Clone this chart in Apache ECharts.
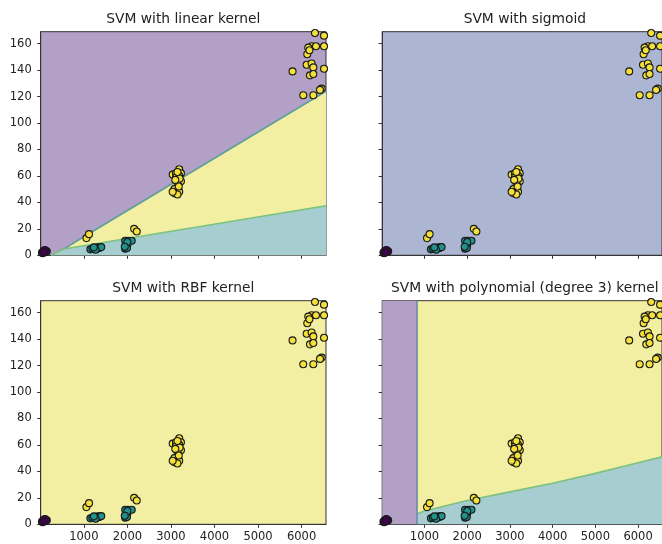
<!DOCTYPE html>
<html>
<head>
<meta charset="utf-8">
<script src="https://cdn.jsdelivr.net/npm/echarts@6/dist/echarts.min.js"></script>
<style>
    html, body { margin: 0; padding: 0; background: #fff; }
    #chart { width: 662px; height: 544px; }
</style>
</head>
<body>
<div id="chart"></div>
<script>
(function () {
    // ── data ────────────────────────────────────────────────────────────
    var titles = ['SVM with linear kernel', 'SVM with sigmoid',
                  'SVM with RBF kernel', 'SVM with polynomial (degree 3) kernel'];
    var xTicks = [1000, 2000, 3000, 4000, 5000, 6000];
    var yTicks = [0, 20, 40, 60, 80, 100, 120, 140, 160];
    var xRange = [10, 6560];
    var yRange = [0, 169];

    // class 0 (dark), class 1 (teal), class 2 (yellow)
    var class0 = [[40, 2], [70, 3], [95, 3.5], [120, 2.5], [150, 3], [60, 1.5], [110, 4], [85, 2.5]];
    var class1 = [[1150, 4.5], [1200, 5], [1250, 5.5], [1280, 4.8], [1300, 5.2], [1320, 6],
                  [1350, 5.5], [1380, 6], [1400, 6.2], [1270, 4.2], [1230, 6],
                  [1950, 5], [1960, 7], [1980, 6], [2000, 8], [1950, 11], [2020, 11],
                  [2100, 11], [1990, 5.5], [2000, 10], [1940, 6.5]];
    var class2 = [[1060, 13], [1120, 16], [2155, 20], [2215, 18],
                  [3040, 61], [3115, 62], [3190, 65], [3230, 62], [3190, 60], [3115, 59],
                  [3230, 56], [3155, 54], [3080, 50], [3190, 48], [3075, 47], [3150, 46],
                  [3040, 48], [3200, 58], [3150, 63], [3100, 57], [3180, 52],
                  [6307, 168], [6515, 166], [6230, 158], [6330, 158], [6153, 157], [6130, 152],
                  [6515, 158], [5792, 139], [6115, 144], [6230, 145], [6269, 142], [6192, 136],
                  [6269, 137], [6515, 141], [6038, 121], [6269, 121], [6461, 126], [6422, 125],
                  [6180, 155]];

    // decision boundaries (data units)
    var linearUpper = [[250, 0], [540, 4.7], [1000, 14], [6560, 124]];
    var linearLower = [[250, 0], [540, 4.7], [6560, 37.5]];
    var polyCutX = 830;
    var polyLower = [[830, 8], [1000, 10], [2000, 18], [3000, 24.5], [4000, 31],
                     [5000, 38.5], [6000, 46.5], [6560, 51]];

    // ── styling ─────────────────────────────────────────────────────────
    var purple = '#b2a0c6', teal = '#a6ced1', yellow = '#f2efa3', slate = '#acb6d3';
    var backgrounds = [purple, slate, yellow, yellow];
    var pointColors = ['#440154', '#21918c', '#f4e03a'];
    var font = 'DejaVu Sans';

    var cols = [40.7, 382.2], rows = [31.7, 300.7];
    var W = 285.3, H = 223.6;

    var grids = [], xAxes = [], yAxes = [], series = [], title = [];

    for (var i = 0; i < 4; i++) {
        var c = i % 2, r = Math.floor(i / 2);
        grids.push({
            left: cols[c], top: rows[r], width: W, height: H,
            show: true, backgroundColor: backgrounds[i],
            borderColor: '#333', borderWidth: 1
        });
        title.push({
            text: titles[i], left: cols[c] + W / 2, top: rows[r] - 19, textAlign: 'center',
            padding: 0,
            textStyle: { fontFamily: font, fontSize: 13.8, fontWeight: 'normal', color: '#222' }
        });
        xAxes.push({
            type: 'value', gridIndex: i, min: xRange[0], max: xRange[1],
            splitLine: { show: false },
            axisLine: { show: true, onZero: false, lineStyle: { color: '#333' } },
            axisTick: { show: true, length: 3.5, customValues: xTicks, lineStyle: { color: '#333' } },
            axisLabel: { show: r === 1, customValues: xTicks, margin: 7,
                         formatter: function (v) { return String(v); },
                         fontFamily: font, fontSize: 11.5, color: '#222' }
        });
        yAxes.push({
            type: 'value', gridIndex: i, min: yRange[0], max: yRange[1],
            splitLine: { show: false },
            axisLine: { show: true, onZero: false, lineStyle: { color: '#333' } },
            axisTick: { show: true, length: 3.5, customValues: yTicks, lineStyle: { color: '#333' } },
            axisLabel: { show: c === 0, customValues: yTicks, margin: 9,
                         formatter: function (v) { return String(v); },
                         fontFamily: font, fontSize: 11.5, color: '#222' }
        });

        [class0, class1, class2].forEach(function (pts, k) {
            series.push({
                type: 'scatter', xAxisIndex: i, yAxisIndex: i, data: pts,
                symbolSize: 7, z: 5, silent: true, clip: true,
                itemStyle: { color: pointColors[k], borderColor: '#1a1a1a', borderWidth: 1.1, opacity: 1 }
            });
        });
    }

    // linear kernel regions
    series.push({
        type: 'line', xAxisIndex: 0, yAxisIndex: 0, data: linearUpper, symbol: 'none', z: 2,
        lineStyle: { color: '#5f9e99', width: 1.6 },
        areaStyle: { color: yellow, opacity: 1 }
    });
    series.push({
        type: 'line', xAxisIndex: 0, yAxisIndex: 0, data: linearLower, symbol: 'none', z: 3,
        lineStyle: { color: '#7cc17f', width: 1.6 },
        areaStyle: { color: teal, opacity: 1 }
    });

    // polynomial kernel regions
    series.push({
        type: 'line', xAxisIndex: 3, yAxisIndex: 3, data: polyLower, symbol: 'none', z: 3,
        lineStyle: { color: '#7cc17f', width: 1.6 },
        areaStyle: { color: teal, opacity: 1 },
        markArea: {
            silent: true,
            itemStyle: { color: purple, opacity: 1 },
            data: [[{ xAxis: xRange[0] }, { xAxis: polyCutX }]]
        },
        markLine: {
            silent: true, symbol: 'none', label: { show: false },
            lineStyle: { color: '#6b8aab', width: 1.6, type: 'solid' },
            data: [{ xAxis: polyCutX }]
        }
    });

    var chart = echarts.init(document.getElementById('chart'));
    chart.setOption({
        animation: false,
        title: title,
        grid: grids,
        xAxis: xAxes,
        yAxis: yAxes,
        series: series
    });
})();
</script>
</body>
</html>
